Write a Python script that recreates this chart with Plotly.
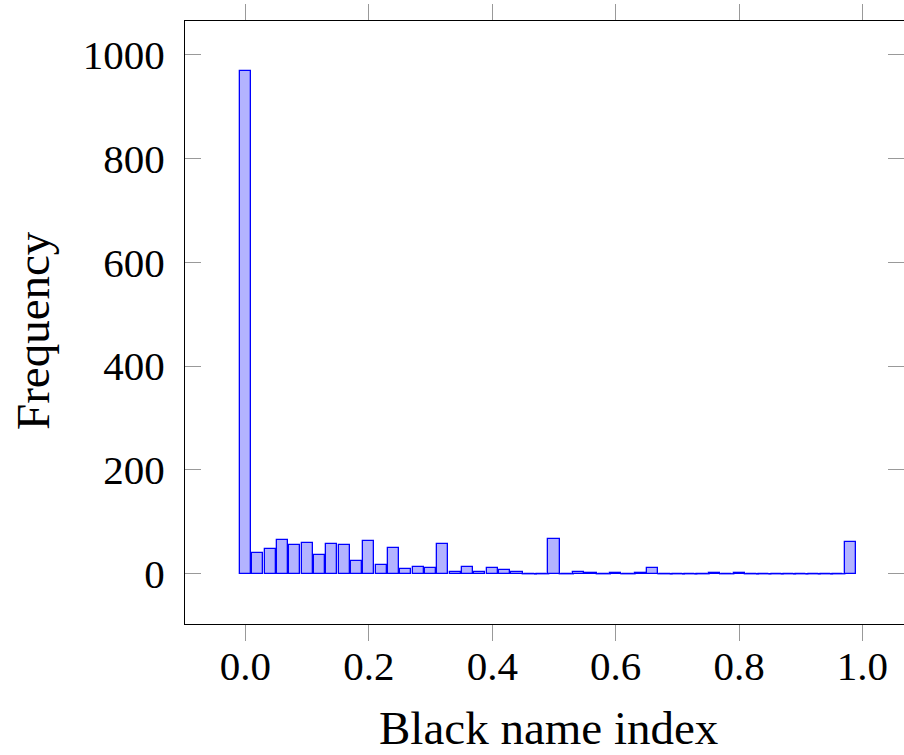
import plotly.graph_objects as go

# Histogram bins (left edges / positions) and counts
bin_width = 0.02
bin_pos = [round(i * bin_width, 2) for i in range(50)]
counts = [968, 40, 48, 65, 55, 60, 36, 57, 55, 24,
          63, 17, 49, 10, 13, 11, 57, 3, 13, 4,
          12, 7, 4, 0, 0, 67, 0, 3, 1, 0,
          2, 0, 1, 11, 0, 0, 0, 0, 1, 0,
          1, 0, 0, 0, 0, 0, 0, 0, 0, 62]

x_ticks = [0.0, 0.2, 0.4, 0.6, 0.8, 1.0]
x_tick_labels = ["0.0", "0.2", "0.4", "0.6", "0.8", "1.0"]
y_ticks = [0, 200, 400, 600, 800, 1000]
y_tick_labels = ["0", "200", "400", "600", "800", "1000"]
x_title = "Black name index"
y_title = "Frequency"

FILL = "#b3b3ff"
EDGE = "#0000ff"
FONT = "Liberation Serif"

fig = go.Figure()
fig.add_trace(go.Bar(
    x=bin_pos, y=counts, width=bin_width * 0.9,
    marker=dict(color=FILL, line=dict(color=EDGE, width=1.3)),
    showlegend=False,
))
# zero-count bins are drawn as flat outlines
zx = [p for p, c in zip(bin_pos, counts) if c == 0]
zy = [c for c in counts if c == 0]
fig.add_trace(go.Scatter(
    x=zx, y=zy, mode="markers",
    marker=dict(symbol="line-ew", size=11, line=dict(color=EDGE, width=1.3)),
    showlegend=False, hoverinfo="skip",
))

L, T, B = 185, 21, 131
PW, PH = 904 - L, 755 - T - B
xmin = -0.098
xmax = xmin + PW / 617.0

fig.update_layout(
    width=904, height=755,
    margin=dict(l=L, r=0, t=T, b=B),
    paper_bgcolor="white", plot_bgcolor="white",
    font=dict(family=FONT, size=41, color="black"),
    bargap=0,
    xaxis=dict(
        range=[xmin, xmax], tickmode="array", tickvals=x_ticks, ticktext=x_tick_labels,
        showgrid=False, zeroline=False, showline=True, linecolor="black", linewidth=1,
        mirror="ticks", ticks="outside", ticklen=16, tickcolor="#999999", tickwidth=1,
        ticklabelstandoff=-10,
    ),
    yaxis=dict(
        range=[-96.8, 1064.8], tickmode="array", tickvals=y_ticks, ticktext=y_tick_labels,
        showgrid=False, zeroline=False, showline=True, linecolor="black", linewidth=1,
        mirror="ticks", ticks="inside", ticklen=16, tickcolor="#999999", tickwidth=1,
        ticklabelstandoff=11,
    ),
    annotations=[
        dict(text=x_title, xref="paper", yref="paper",
             x=(548 - L) / PW, y=(T + PH - 728) / PH,
             xanchor="center", yanchor="middle", showarrow=False,
             font=dict(size=47)),
        dict(text=y_title, xref="paper", yref="paper", textangle=-90,
             x=(33 - L) / PW, y=(T + PH - 331) / PH,
             xanchor="center", yanchor="middle", showarrow=False,
             font=dict(size=47)),
    ],
)

fig.write_html("out.html")
